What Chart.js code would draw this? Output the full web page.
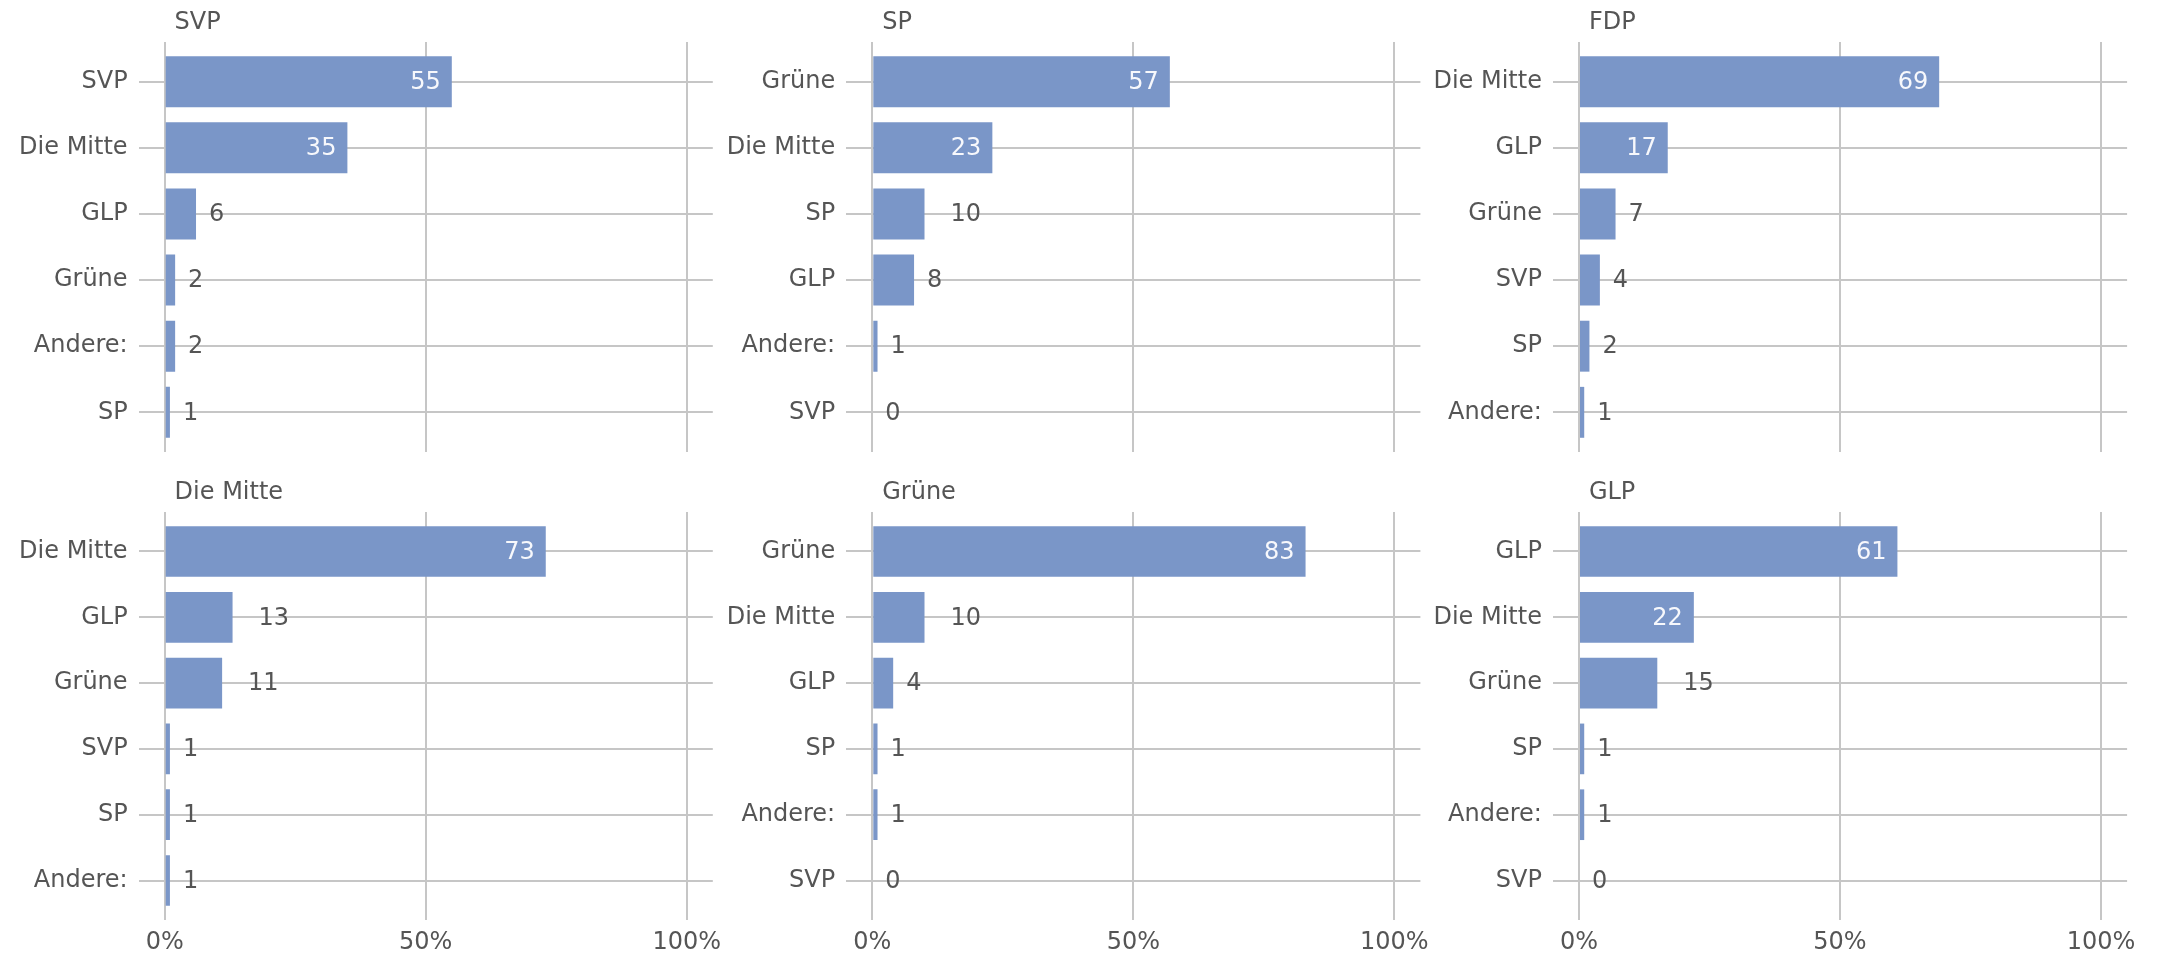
<!DOCTYPE html>
<html>
<head>
<meta charset="utf-8">
<script src="https://cdn.jsdelivr.net/npm/chart.js@4.4.1/dist/chart.umd.min.js"></script>
<style>
  html, body { margin: 0; padding: 0; background: #ffffff; }
  body { width: 2158px; height: 955px; position: relative; overflow: hidden; }
  canvas { position: absolute; }
</style>
</head>
<body>
<script>
// ---- data ----
const panelTitles = ['SVP', 'SP', 'FDP', 'Die Mitte', 'Grüne', 'GLP'];

const svpCategories = ['SVP', 'Die Mitte', 'GLP', 'Grüne', 'Andere:', 'SP'];
const svpValues = [55, 35, 6, 2, 2, 1];

const spCategories = ['Grüne', 'Die Mitte', 'SP', 'GLP', 'Andere:', 'SVP'];
const spValues = [57, 23, 10, 8, 1, 0];

const fdpCategories = ['Die Mitte', 'GLP', 'Grüne', 'SVP', 'SP', 'Andere:'];
const fdpValues = [69, 17, 7, 4, 2, 1];

const mitteCategories = ['Die Mitte', 'GLP', 'Grüne', 'SVP', 'SP', 'Andere:'];
const mitteValues = [73, 13, 11, 1, 1, 1];

const grueneCategories = ['Grüne', 'Die Mitte', 'GLP', 'SP', 'Andere:', 'SVP'];
const grueneValues = [83, 10, 4, 1, 1, 0];

const glpCategories = ['GLP', 'Die Mitte', 'Grüne', 'SP', 'Andere:', 'SVP'];
const glpValues = [61, 22, 15, 1, 1, 0];

const xTickValues = [0, 50, 100];
const xTickLabels = ['0%', '50%', '100%'];

// ---- styling / layout ----
const FONT = '"DejaVu Sans", sans-serif';
const TEXT = '#555555';
const BAR = '#7a96c8';
const GRID = '#c6c6c6';

Chart.defaults.font.family = FONT;
Chart.defaults.font.size = 24;
Chart.defaults.color = TEXT;

const panelCategories = [svpCategories, spCategories, fdpCategories, mitteCategories, grueneCategories, glpCategories];
const panelValues = [svpValues, spValues, fdpValues, mitteValues, grueneValues, glpValues];

const CW = 740;
const colCanvasLeft = [0, 700, 1400];
const colAreaLeft = [138.6, 846.2, 1552.9];
const AREA_W = 574.2;
const rowCanvasTop = [0, 470];
const rowCanvasH = [470, 485];
const rowAreaTop = [42, 42];
const rowAreaBottom = [452, 450];
const rowXAxisH = [0, 35];

function makePlugin(title, vals) {
  return {
    id: 'valueLabels',
    afterDatasetsDraw(chart) {
      const ctx = chart.ctx;
      const meta = chart.getDatasetMeta(0);
      ctx.save();
      ctx.font = '24px ' + FONT;
      ctx.textBaseline = 'middle';
      meta.data.forEach((bar, i) => {
        const v = vals[i];
        const txt = String(v);
        if (v >= 16) {
          ctx.fillStyle = '#f7f8fc';
          ctx.textAlign = 'right';
          ctx.fillText(txt, bar.x - 11, bar.y + 1);
        } else {
          const w = ctx.measureText(txt).width;
          ctx.fillStyle = TEXT;
          ctx.textAlign = 'left';
          ctx.fillText(txt, bar.x + 0.85 * w, bar.y + 1);
        }
      });
      ctx.restore();
    },
    afterDraw(chart) {
      const ctx = chart.ctx;
      ctx.save();
      ctx.font = '24px ' + FONT;
      ctx.fillStyle = TEXT;
      ctx.textAlign = 'left';
      ctx.textBaseline = 'alphabetic';
      ctx.fillText(title, chart.chartArea.left + 36, chart.chartArea.top - 12.8);
      ctx.restore();
    }
  };
}

panelTitles.forEach((title, p) => {
  const col = p % 3, row = Math.floor(p / 3);
  const cats = panelCategories[p];
  const vals = panelValues[p];
  const canvas = document.createElement('canvas');
  canvas.width = CW;
  canvas.height = rowCanvasH[row];
  canvas.style.left = colCanvasLeft[col] + 'px';
  canvas.style.top = rowCanvasTop[row] + 'px';
  canvas.style.width = CW + 'px';
  canvas.style.height = rowCanvasH[row] + 'px';
  document.body.appendChild(canvas);

  const yAxisW = colAreaLeft[col] - colCanvasLeft[col];
  const padRight = CW - (colAreaLeft[col] + AREA_W - colCanvasLeft[col]);
  const padBottom = rowCanvasH[row] - rowAreaBottom[row] - rowXAxisH[row];

  new Chart(canvas, {
    type: 'bar',
    data: {
      datasets: [{
        data: vals.map((v, i) => ({ x: v, y: i + 1 })),
        backgroundColor: BAR,
        borderWidth: 0,
        barPercentage: 0.77,
        categoryPercentage: 1
      }]
    },
    options: {
      indexAxis: 'y',
      responsive: false,
      animation: false,
      devicePixelRatio: 1,
      layout: { padding: { top: rowAreaTop[row], bottom: padBottom, left: 0, right: padRight } },
      plugins: { legend: { display: false }, tooltip: { enabled: false }, title: { display: false } },
      scales: {
        x: {
          type: 'linear',
          min: -5,
          max: 105,
          offset: false,
          afterBuildTicks: (s) => { s.ticks = xTickValues.map(v => ({ value: v })); },
          afterFit: (s) => { s.height = rowXAxisH[row]; s.paddingLeft = 0; s.paddingRight = 0; },
          grid: { color: GRID, lineWidth: 2, drawTicks: false, offset: false },
          border: { display: false },
          ticks: {
            display: row === 1,
            padding: 8,
            maxRotation: 0,
            autoSkip: false,
            color: TEXT,
            font: { size: 24, family: FONT },
            callback: (v) => xTickLabels[xTickValues.indexOf(v)]
          }
        },
        y: {
          type: 'linear',
          reverse: true,
          min: 0.4,
          max: 6.6,
          offset: false,
          afterBuildTicks: (s) => { s.ticks = cats.map((c, i) => ({ value: i + 1 })); },
          afterFit: (s) => { s.width = yAxisW; s.paddingTop = 0; s.paddingBottom = 0; },
          grid: { color: GRID, lineWidth: 2, drawTicks: false, offset: false },
          border: { display: false },
          ticks: {
            padding: 11,
            autoSkip: false,
            color: TEXT,
            font: { size: 24, family: FONT },
            callback: (v) => cats[v - 1]
          }
        }
      }
    },
    plugins: [makePlugin(title, vals)]
  });
});
</script>
</body>
</html>
